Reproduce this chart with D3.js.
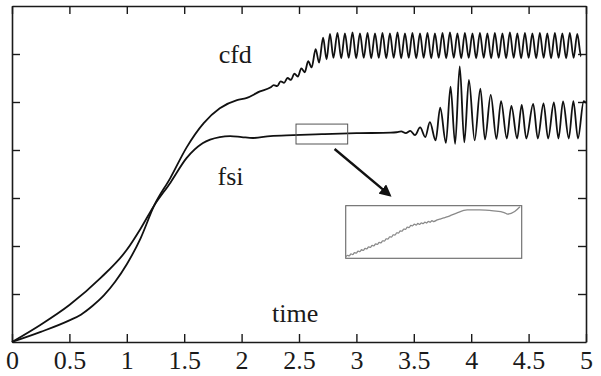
<!DOCTYPE html>
<html>
<head>
<meta charset="utf-8">
<script src="https://cdn.jsdelivr.net/npm/d3@7/dist/d3.min.js"></script>
<style>
  html, body { margin: 0; padding: 0; background: #fff; }
  svg { display: block; }
</style>
</head>
<body>
<div id="chart"></div>
<script>
// ---- data ----
const tickTimes = [0, 0.5, 1, 1.5, 2, 2.5, 3, 3.5, 4, 4.5, 5];
const tickLabels = ['0', '0.5', '1', '1.5', '2', '2.5', '3', '3.5', '4', '4.5', '5'];
const yTicks = [1, 2, 3, 4, 5, 6];

const cfdTime = [
  0, 0.25, 0.5, 0.6, 0.7, 0.8, 0.9, 1.0, 1.12, 1.24, 1.38, 1.52, 1.67, 1.81, 1.96, 2.04, 2.16, 2.25,
  2.28, 2.31, 2.34, 2.37, 2.40, 2.43, 2.46, 2.49, 2.52, 2.55, 2.58, 2.61, 2.645, 2.675, 2.71, 2.74,
  2.77, 2.80, 2.835, 2.868, 2.90, 2.933, 2.966, 2.998, 3.031, 3.064, 3.097, 3.129, 3.162, 3.195,
  3.227, 3.260, 3.292, 3.325, 3.358, 3.39, 3.423, 3.456, 3.488, 3.521, 3.554, 3.586, 3.619, 3.652,
  3.684, 3.717, 3.750, 3.782, 3.815, 3.848, 3.880, 3.913, 3.945, 3.978, 4.011, 4.043, 4.076, 4.109,
  4.141, 4.174, 4.206, 4.239, 4.272, 4.304, 4.337, 4.37, 4.402, 4.435, 4.468, 4.50, 4.533, 4.566,
  4.598, 4.631, 4.663, 4.696, 4.729, 4.761, 4.794, 4.827, 4.859, 4.892, 4.924, 4.957, 4.99, 5.0
];
const cfdValue = [
  0, 0.21, 0.45, 0.57, 0.75, 0.97, 1.26, 1.62, 2.16, 2.85, 3.42, 4.05, 4.56, 4.87, 5.04, 5.08, 5.22, 5.30,
  5.35, 5.33, 5.43, 5.40, 5.50, 5.46, 5.59, 5.53, 5.70, 5.62, 5.85, 5.72, 6.10, 5.82, 6.34, 5.89,
  6.42, 5.92, 6.44, 5.91, 6.43, 5.92, 6.45, 5.91, 6.43, 5.92, 6.44, 5.91, 6.43, 5.92,
  6.44, 5.91, 6.43, 5.92, 6.45, 5.91, 6.43, 5.92, 6.44, 5.91, 6.43, 5.92,
  6.44, 5.91, 6.43, 5.92, 6.44, 5.91, 6.45, 5.92, 6.43, 5.91, 6.44, 5.92, 6.43, 5.91,
  6.44, 5.92, 6.43, 5.91, 6.44, 5.92, 6.43, 5.91, 6.45, 5.92, 6.43, 5.91, 6.44, 5.92,
  6.43, 5.91, 6.44, 5.92, 6.43, 5.91, 6.44, 5.92, 6.43, 5.91, 6.44, 5.92, 6.42, 5.95
];

const fsiTime = [
  0, 0.25, 0.5, 0.77, 1.0, 1.12, 1.24, 1.38, 1.52, 1.66, 1.81, 1.9, 2.0, 2.1, 2.25, 2.45, 2.7, 3.0, 3.3,
  3.35, 3.39, 3.43, 3.47, 3.51, 3.555, 3.60, 3.64, 3.69, 3.73, 3.78, 3.82, 3.86, 3.90, 3.94, 3.98,
  4.03, 4.08, 4.12, 4.17, 4.22, 4.26, 4.31, 4.35, 4.40, 4.44, 4.48, 4.54, 4.58, 4.63, 4.67, 4.72,
  4.76, 4.80, 4.85, 4.89, 4.93, 4.98, 5.0
];
const fsiValue = [
  0, 0.36, 0.77, 1.33, 1.92, 2.36, 2.85, 3.32, 3.83, 4.14, 4.27, 4.29, 4.27, 4.25, 4.29, 4.31, 4.33, 4.35, 4.36,
  4.37, 4.39, 4.35, 4.40, 4.31, 4.47, 4.27, 4.58, 4.20, 4.88, 4.15, 5.32, 4.13, 5.74, 4.16, 5.46,
  4.20, 5.28, 4.22, 5.15, 4.23, 5.02, 4.24, 4.92, 4.24, 4.94, 4.24, 4.96, 4.24, 4.97, 4.24, 4.99,
  4.24, 5.01, 4.24, 5.02, 4.24, 5.02, 4.98
];

// zoomed detail of fsi (normalised inside the inset box)
const insetX = [
  0, 0.01, 0.02, 0.03, 0.04, 0.05, 0.06, 0.07, 0.08, 0.09, 0.10, 0.11, 0.12, 0.13, 0.14, 0.15,
  0.16, 0.17, 0.18, 0.19, 0.20, 0.21, 0.22, 0.23, 0.24, 0.25, 0.26, 0.27, 0.28, 0.29, 0.30,
  0.31, 0.32, 0.33, 0.34, 0.35, 0.36, 0.37, 0.38, 0.39, 0.40, 0.41, 0.42, 0.43, 0.44, 0.45,
  0.46, 0.47, 0.48, 0.49, 0.50, 0.52, 0.54, 0.56, 0.58, 0.60, 0.63, 0.69, 0.76, 0.84, 0.90,
  0.92, 0.96, 0.99
];
const insetY = [
  0.03, 0.055, 0.045, 0.082, 0.071, 0.109, 0.098, 0.135, 0.125, 0.162, 0.151, 0.189, 0.178, 0.216, 0.207, 0.245,
  0.236, 0.274, 0.265, 0.303, 0.294, 0.332, 0.327, 0.370, 0.365, 0.408, 0.403, 0.446, 0.441, 0.484, 0.479,
  0.522, 0.515, 0.556, 0.549, 0.591, 0.584, 0.625, 0.618, 0.649, 0.631, 0.662, 0.645, 0.675, 0.658, 0.689,
  0.671, 0.702, 0.685, 0.715, 0.698, 0.73, 0.75, 0.77, 0.79, 0.82, 0.86, 0.92, 0.92, 0.90, 0.87,
  0.84, 0.89, 0.98
];

// ---- layout ----
const width = 601, height = 376;
const frame = { left: 12, right: 586, top: 6, bottom: 342 };
const zoomBox = { t0: 2.474, t1: 2.924, v0: 4.125, v1: 4.54 };
const insetBox = { t0: 2.907, t1: 4.44, v0: 1.744, v1: 2.84 };
const arrow = { t0: 2.81, v0: 4.02, t1: 3.29, v1: 3.06 };
const serif = '"Liberation Serif", "DejaVu Serif", serif';
const ink = '#1a1a1a';

const svg = d3.select('#chart').append('svg')
  .attr('width', width)
  .attr('height', height);

svg.append('rect').attr('width', width).attr('height', height).attr('fill', '#fff');

const x = d3.scaleLinear().domain([0, 5]).range([frame.left, frame.right]);
const y = d3.scaleLinear().domain([0, 7]).range([frame.bottom, frame.top]);

// axes: ticks point inward on all four sides
const bottom = svg.append('g')
  .attr('transform', `translate(0,${frame.bottom})`)
  .call(d3.axisBottom(x).tickValues(tickTimes).tickFormat((d, i) => tickLabels[i]).tickSizeInner(-8).tickSizeOuter(0));
bottom.selectAll('text')
  .attr('y', 27)
  .attr('dy', 0)
  .style('font-family', serif)
  .style('font-size', '26px')
  .attr('fill', ink);

svg.append('g')
  .attr('transform', `translate(0,${frame.top})`)
  .call(d3.axisTop(x).tickValues(tickTimes).tickFormat('').tickSizeInner(-8).tickSizeOuter(0));

svg.append('g')
  .attr('transform', `translate(${frame.left},0)`)
  .call(d3.axisLeft(y).tickValues(yTicks).tickFormat('').tickSizeInner(-8).tickSizeOuter(0));

svg.append('g')
  .attr('transform', `translate(${frame.right},0)`)
  .call(d3.axisRight(y).tickValues(yTicks).tickFormat('').tickSizeInner(-8).tickSizeOuter(0));

svg.selectAll('.domain').attr('stroke', ink).attr('stroke-width', 1.6);
svg.selectAll('.tick line').attr('stroke', ink).attr('stroke-width', 1.4);

// curves
const line = d3.line()
  .x(d => x(d[0]))
  .y(d => y(d[1]))
  .curve(d3.curveMonotoneX);

const cfd = cfdTime.map((t, i) => [t, cfdValue[i]]);
const fsi = fsiTime.map((t, i) => [t, fsiValue[i]]);

[cfd, fsi].forEach(series => {
  svg.append('path')
    .datum(series)
    .attr('d', line)
    .attr('fill', 'none')
    .attr('stroke', '#111')
    .attr('stroke-width', 1.8);
});

// small box on fsi and the arrow to the inset
svg.append('rect')
  .attr('x', x(zoomBox.t0))
  .attr('y', y(zoomBox.v1))
  .attr('width', x(zoomBox.t1) - x(zoomBox.t0))
  .attr('height', y(zoomBox.v0) - y(zoomBox.v1))
  .attr('fill', 'none')
  .attr('stroke', '#555')
  .attr('stroke-width', 1);

svg.append('defs').append('marker')
  .attr('id', 'head')
  .attr('viewBox', '0 0 10 10')
  .attr('refX', 8).attr('refY', 5)
  .attr('markerWidth', 5).attr('markerHeight', 5)
  .attr('orient', 'auto')
  .append('path')
  .attr('d', 'M0,0L10,5L0,10z')
  .attr('fill', '#111');

svg.append('line')
  .attr('x1', x(arrow.t0)).attr('y1', y(arrow.v0))
  .attr('x2', x(arrow.t1)).attr('y2', y(arrow.v1))
  .attr('stroke', '#111')
  .attr('stroke-width', 2.4)
  .attr('marker-end', 'url(#head)');

// inset
const ix = d3.scaleLinear().domain([0, 1]).range([x(insetBox.t0), x(insetBox.t1)]);
const iy = d3.scaleLinear().domain([0, 1]).range([y(insetBox.v0), y(insetBox.v1)]);

svg.append('rect')
  .attr('x', ix(0))
  .attr('y', iy(1))
  .attr('width', ix(1) - ix(0))
  .attr('height', iy(0) - iy(1))
  .attr('fill', '#fff')
  .attr('stroke', '#666')
  .attr('stroke-width', 1.1);

svg.append('path')
  .datum(insetX.map((v, i) => [v, insetY[i]]))
  .attr('d', d3.line().x(d => ix(d[0])).y(d => iy(d[1])).curve(d3.curveMonotoneX))
  .attr('fill', 'none')
  .attr('stroke', '#8a8a8a')
  .attr('stroke-width', 1.3);

// labels
const labels = [
  { text: 'cfd', t: 1.80, v: 5.81 },
  { text: 'fsi', t: 1.79, v: 3.27 },
  { text: 'time', t: 2.265, v: 0.42 }
];
svg.selectAll('text.note')
  .data(labels)
  .enter()
  .append('text')
  .attr('class', 'note')
  .attr('x', d => x(d.t))
  .attr('y', d => y(d.v))
  .style('font-family', serif)
  .style('font-size', '26px')
  .attr('fill', ink)
  .text(d => d.text);
</script>
</body>
</html>
